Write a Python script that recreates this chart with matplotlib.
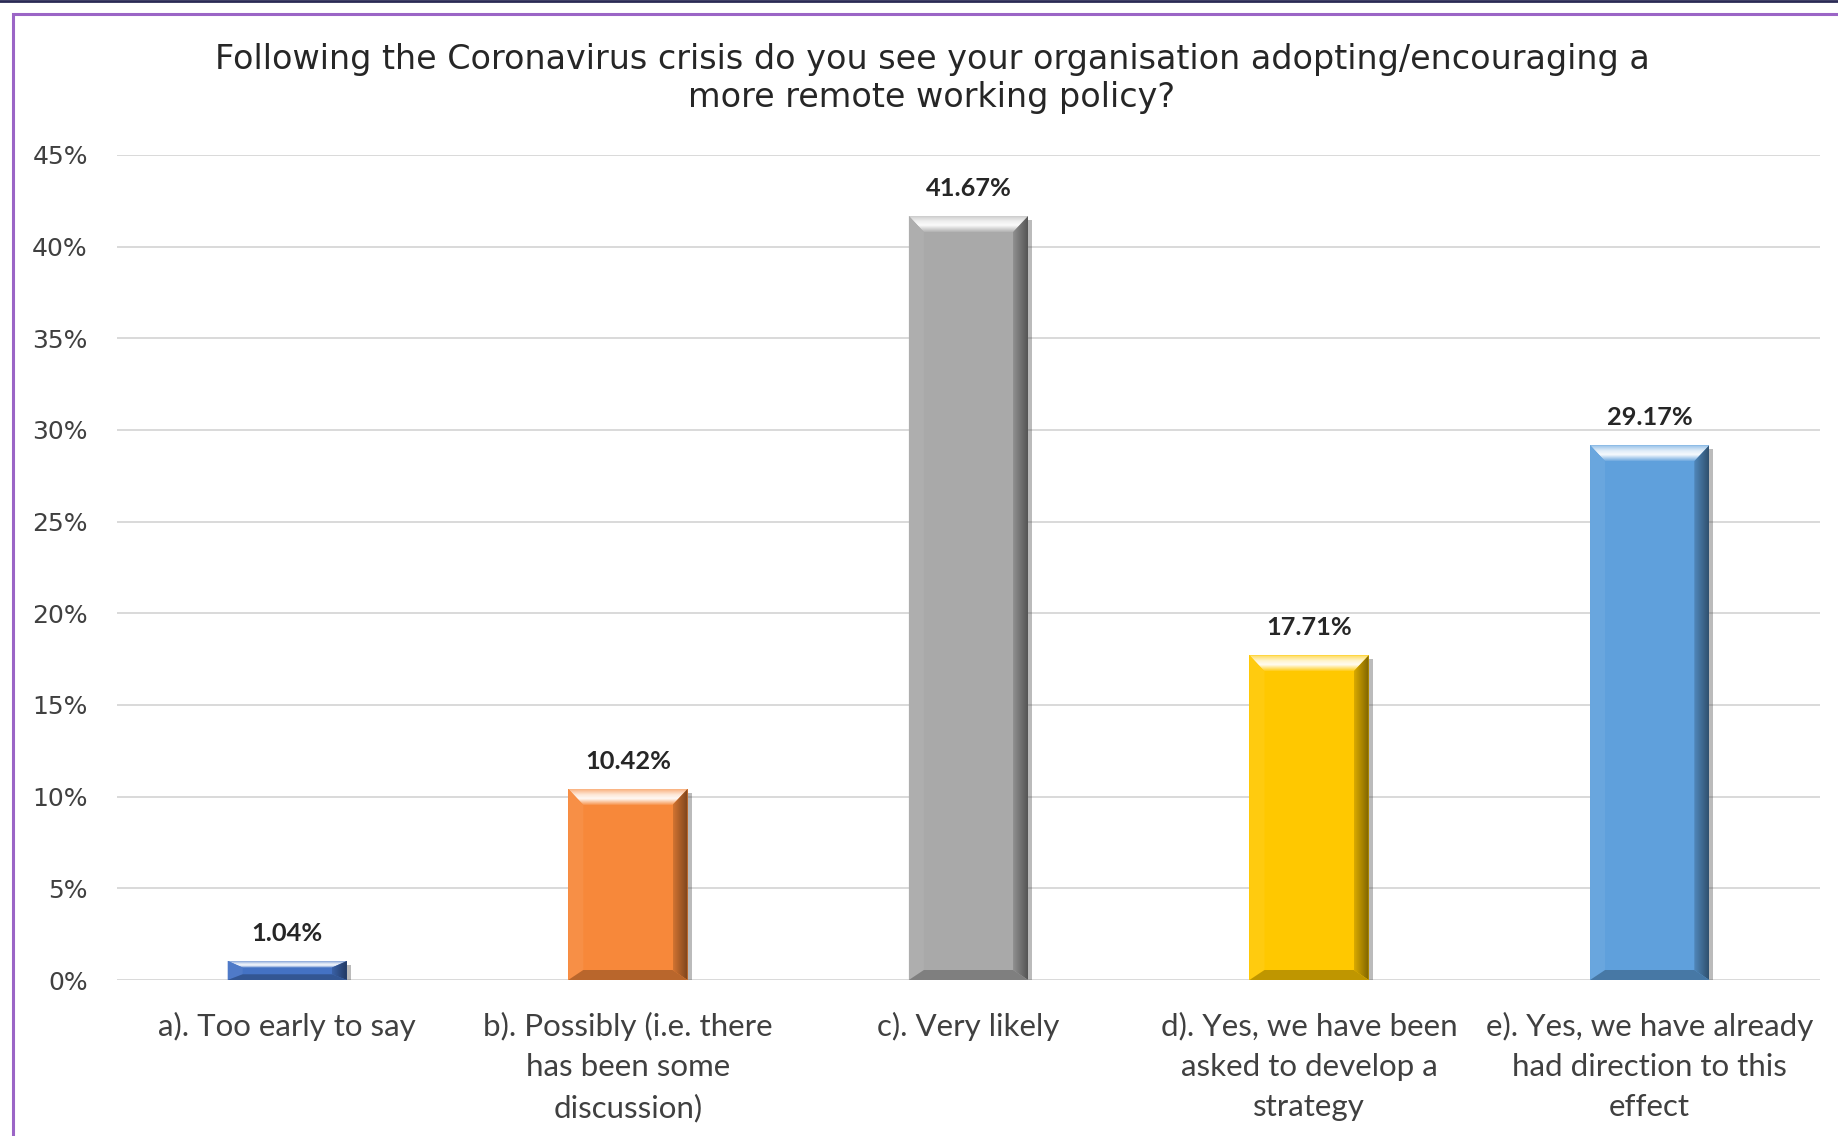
import numpy as np
import matplotlib
matplotlib.use("Agg")
import matplotlib.pyplot as plt
from matplotlib.patches import Polygon, Rectangle
from matplotlib.colors import to_rgb
import matplotlib.patheffects as pe

# ---- data ----
categories = [
    "a). Too early to say",
    "b). Possibly (i.e. there\nhas been some\ndiscussion)",
    "c). Very likely",
    "d). Yes, we have been\nasked to develop a\nstrategy",
    "e). Yes, we have already\nhad direction to this\neffect",
]
values = [1.04, 10.42, 41.67, 17.71, 29.17]
bar_colors = ["#4472C4", "#F7883A", "#A9A9A9", "#FFC800", "#5FA0DC"]
yticks = [0, 5, 10, 15, 20, 25, 30, 35, 40, 45]
title = ("Following the Coronavirus crisis do you see your organisation adopting/encouraging a\n"
         "more remote working policy?")

W, H = 1838, 1136
fig = plt.figure(figsize=(W / 100, H / 100), dpi=100)
fig.patch.set_facecolor("white")

ax_l, ax_r, ax_t, ax_b = 117, 1820, 155, 980
ax = fig.add_axes([ax_l / W, 1 - ax_b / H, (ax_r - ax_l) / W, (ax_b - ax_t) / H])
ax.set_xlim(-0.5, len(values) - 0.5)
ax.set_ylim(0, 45)

label_font = ["Lato", "DejaVu Sans"]
text_col = "#404040"

# gridlines
ax.set_yticks(yticks)
ax.set_yticklabels([f"{v}%" for v in yticks], fontsize=18, color=text_col,
                   family="DejaVu Sans")
ax.yaxis.grid(True, color="#D9D9D9", lw=1.4)
ax.set_axisbelow(True)
ax.tick_params(axis="y", length=0, pad=21)
ax.tick_params(axis="x", length=0, pad=22.8)
for s in ax.spines.values():
    s.set_visible(False)

x = np.arange(len(values))
bw = 0.35
bars = ax.bar(x, values, width=bw, color=bar_colors, zorder=2,
              path_effects=[pe.SimplePatchShadow(offset=(3, -3), shadow_rgbFace="#555555", alpha=0.4),
                            pe.Normal()])


def mix(c, other, t):
    c = np.array(to_rgb(c))
    o = np.array(to_rgb(other))
    return tuple(c * (1 - t) + o * t)


# bevel facets on each bar
px_x = (ax_r - ax_l) / len(values)      # pixels per x unit
px_y = (ax_b - ax_t) / 45.0             # pixels per y unit
for b, v, c in zip(bars, values, bar_colors):
    x0 = b.get_x()
    x1 = x0 + b.get_width()
    dx = 15 / px_x
    dy_t = min(16 / px_y, v * 0.35)
    dy_b = min(10 / px_y, v * 0.3)
    # top facet: gradient to a bright highlight
    top = Polygon([(x0, v), (x1, v), (x1 - dx, v - dy_t), (x0 + dx, v - dy_t)],
                  closed=True, facecolor="none", edgecolor="none", zorder=3)
    ax.add_patch(top)
    n = 64
    prof = np.interp(np.linspace(0, 1, n), [0, 0.4, 0.65, 1.0], [0.1, 0.95, 0.8, 0.35])
    img = np.array([mix(c, "white", p) for p in prof]).reshape(n, 1, 3)
    im = ax.imshow(img, extent=(x0, x1, v - dy_t, v), origin="lower",
                   aspect="auto", zorder=3, interpolation="bilinear")
    im.set_clip_path(top)
    # right facet: darker gradient
    right = Polygon([(x1, v), (x1, 0), (x1 - dx, dy_b), (x1 - dx, v - dy_t)],
                    closed=True, facecolor="none", edgecolor="none", zorder=3)
    ax.add_patch(right)
    profr = np.interp(np.linspace(0, 1, n), [0, 1], [0.15, 0.5])
    imgr = np.array([mix(c, "black", p) for p in profr]).reshape(1, n, 3)
    imr = ax.imshow(imgr, extent=(x1 - dx, x1, 0, v), origin="lower",
                    aspect="auto", zorder=3, interpolation="bilinear")
    imr.set_clip_path(right)
    # left facet: slightly lighter
    ax.add_patch(Polygon([(x0, v), (x0, 0), (x0 + dx, dy_b), (x0 + dx, v - dy_t)],
                         closed=True, facecolor=mix(c, "white", 0.06),
                         edgecolor="none", zorder=3))
    # bottom facet: darker
    ax.add_patch(Polygon([(x0, 0), (x1, 0), (x1 - dx, dy_b), (x0 + dx, dy_b)],
                         closed=True, facecolor=mix(c, "black", 0.25),
                         edgecolor="none", zorder=3))
    # value label
    ax.annotate(f"{v:.2f}%", (b.get_x() + b.get_width() / 2, v),
                xytext=(0, 20), textcoords="offset points", ha="center", va="center",
                fontsize=18.3, fontweight="bold", color="#262626", family=label_font,
                zorder=5)

ax.set_xticks(x)
ax.set_xticklabels(categories, fontsize=22.5, color=text_col, family=label_font,
                   linespacing=1.53, va="top")

ax.set_ylim(0, 45)

# title
fig.text(932 / W, 1 - 78.5 / H, title, ha="center", va="center", fontsize=24,
         color="#262626", family="DejaVu Sans", linespacing=1.2)

# frame lines
fig.add_artist(Rectangle((13 / W, -0.05), 1.2, 1 - 14 / H + 0.05, transform=fig.transFigure,
                         fill=False, edgecolor="#9B65C6", lw=2.2, zorder=10))
fig.add_artist(plt.Line2D([0, 1], [1 - 1 / H, 1 - 1 / H], transform=fig.transFigure,
                          color="#2A2A55", lw=2, zorder=10))

fig.savefig("out.png", dpi=100, facecolor="white")
